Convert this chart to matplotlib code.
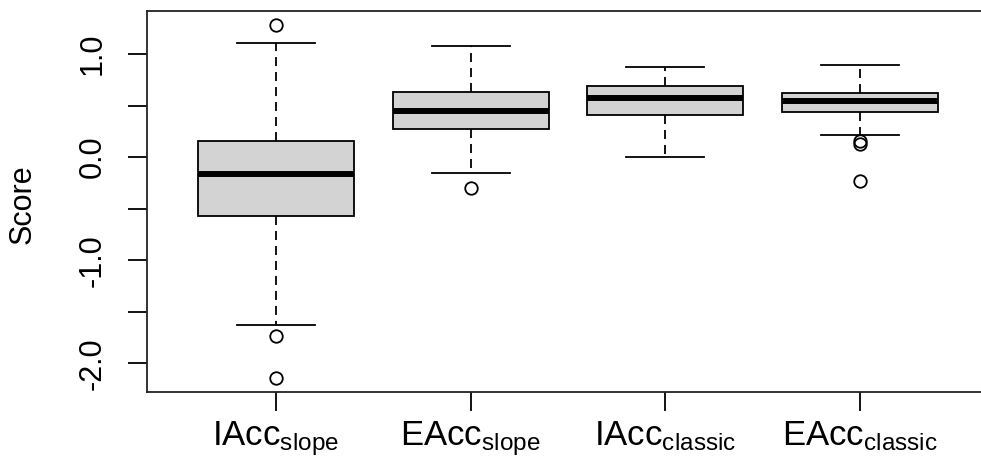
import matplotlib
matplotlib.use("Agg")
import matplotlib.pyplot as plt

plt.rcParams["font.family"] = ["Liberation Sans", "DejaVu Sans"]
plt.rcParams["mathtext.fontset"] = "custom"
plt.rcParams["mathtext.rm"] = "Liberation Sans"
plt.rcParams["mathtext.it"] = "Liberation Sans:italic"

# summary statistics
names = ["IAcc", "EAcc", "IAcc", "EAcc"]
subscripts = ["slope", "slope", "classic", "classic"]
medians = [-0.16, 0.45, 0.57, 0.54]
q1 = [-0.575, 0.27, 0.405, 0.44]
q3 = [0.16, 0.635, 0.69, 0.62]
whisk_lo = [-1.63, -0.15, 0.0, 0.215]
whisk_hi = [1.11, 1.08, 0.87, 0.89]
outliers = [[1.28, -1.73, -2.14], [-0.30], [], [0.154, 0.125, -0.236]]

y_ticks = [-2.0, -1.5, -1.0, -0.5, 0.0, 0.5, 1.0]
y_labels = ["-2.0", "", "-1.0", "", "0.0", "", "1.0"]

stats = []
for i in range(len(names)):
    stats.append({
        "med": medians[i], "q1": q1[i], "q3": q3[i],
        "whislo": whisk_lo[i], "whishi": whisk_hi[i],
        "fliers": outliers[i],
    })

W, H = 981, 459
fig = plt.figure(figsize=(W / 100, H / 100), dpi=100)
# R-style plot region; right edge runs just past the canvas
ax = fig.add_axes([147 / W, (H - 392) / H, (989 - 147) / W, (392 - 11) / H])

positions = list(range(1, len(names) + 1))
ax.bxp(
    stats,
    positions=positions,
    widths=0.8,
    patch_artist=True,
    boxprops=dict(facecolor="#d3d3d3", edgecolor="black", linewidth=1.3),
    medianprops=dict(color="black", linewidth=4.3, solid_capstyle="butt"),
    whiskerprops=dict(color="black", linewidth=1.3, linestyle=(0, (5, 3.3))),
    capprops=dict(color="black", linewidth=1.3),
    capwidths=0.4,
    flierprops=dict(marker="o", markersize=9, markerfacecolor="none",
                    markeredgecolor="black", markeredgewidth=1.3),
)

# R pads the data range by 4% on each side
all_vals = whisk_lo + whisk_hi + [v for f in outliers for v in f]
lo, hi = min(all_vals), max(all_vals)
pad = 0.04 * (hi - lo)
ax.set_ylim(lo - pad, hi + pad)
ax.set_xlim(0.5 - 0.16, len(names) + 0.5 + 0.16)

ax.set_yticks(y_ticks)
ax.set_yticklabels(y_labels, rotation=90, va="center", fontsize=22)
ax.set_xticks(positions)
ax.set_xticklabels(
    [rf"$\mathrm{{{n}}}_{{\mathrm{{{s}}}}}$" for n, s in zip(names, subscripts)],
    fontsize=25,
)
ax.tick_params(axis="y", length=13.5, width=1.3, pad=15)
ax.tick_params(axis="x", length=13.5, width=1.3, pad=6)

for side in ax.spines.values():
    side.set_linewidth(1.3)
    side.set_color("#222222")

fig.text(23 / W, 1 - 204 / H, "Score", rotation=90, ha="center", va="center",
         fontsize=22)

fig.savefig("out.png", dpi=100)
plt.close(fig)
